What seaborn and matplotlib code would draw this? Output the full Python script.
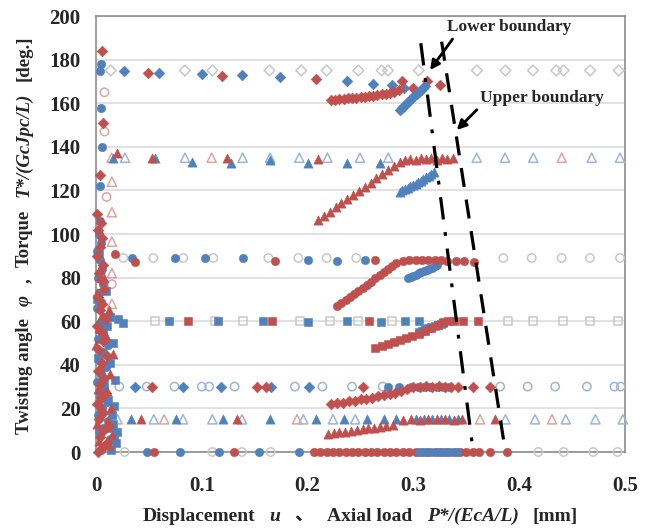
import numpy as np
import matplotlib
matplotlib.use("Agg")
import matplotlib.pyplot as plt
import seaborn as sns
from matplotlib.transforms import IdentityTransform

RED = "#C0504D"
BLUE = "#4F81BD"
OPEN_GRAY = "#C8C8C8"
OPEN_BLUE = "#9DB5DC"
OPEN_RED = "#DFA4A2"

# ---- rows of twisting angle (displacement on x) ----
# 175 deg (diamonds)
r175_red_x = [0.049, 0.119, 0.208, 0.289, 0.313, 0.325]
r175_red_y = [174, 172.5, 171, 170, 170, 168.3]
r175_blue_x = [0.026, 0.060, 0.100, 0.138, 0.174, 0.237, 0.262, 0.280, 0.291]
r175_blue_y = [175, 174, 173.5, 173, 172, 170, 169, 168.3, 166.8]
r175_open_x = [0.014, 0.084, 0.110, 0.164, 0.194, 0.218, 0.248, 0.270, 0.276, 0.305,
               0.360, 0.387, 0.413, 0.435, 0.442, 0.467, 0.494]

# 135 deg (triangles)
r135_red_x = [0.0195, 0.0526, 0.1235, 0.2101]
r135_red_y = [137, 135, 135, 134.5]
r135_blue_x = [0.0164, 0.0558, 0.0904, 0.1273, 0.1645, 0.2007, 0.237, 0.268]
r135_blue_y = [135, 135, 133, 132.5, 134, 132.5, 132.5, 132.4]
r135_open_x = [0.0274, 0.0841, 0.1386, 0.1645, 0.1922, 0.2187, 0.2495, 0.2763,
               0.3598, 0.3866, 0.4133, 0.4685, 0.4953]
r135_open_red_x = [0.0148, 0.1093, 0.4402]

# 90 deg (circles)
r90_red_x = [0.018, 0.0369, 0.1692, 0.2637]
r90_red_y = [91, 87.3, 87.8, 88]
r90_blue_x = [0.0337, 0.0747, 0.103, 0.1386, 0.2007, 0.2275, 0.2543]
r90_blue_y = [88.8, 89, 89, 89, 88, 87.8, 88]
r90_open_x = [0.0258, 0.0542, 0.0825, 0.1109, 0.1629, 0.1912, 0.218, 0.246,
              0.385, 0.4118, 0.4402, 0.4669, 0.4953]

# 60 deg (squares)
r60_red_x = [0.0866, 0.166, 0.2583, 0.3466, 0.3613]
r60_blue_x = [0.021, 0.0258, 0.0693, 0.1156, 0.1582, 0.2007, 0.237, 0.269, 0.292, 0.3056]
r60_blue_y = [61, 59, 60, 60, 60, 59.5, 60, 59.5, 60, 60]
r60_open_x = [0.0558, 0.1125, 0.1386, 0.1928, 0.2212, 0.2479, 0.2795,
              0.3897, 0.4133, 0.4417, 0.4669, 0.4937]

# 30 deg (diamonds / open circles)
r30_red_x = [0.053, 0.152, 0.161, 0.252, 0.356, 0.372]
r30_blue_x = [0.0367, 0.0823, 0.118, 0.165, 0.201]
r30_open_x = [0.022, 0.048, 0.0742, 0.100, 0.107, 0.131, 0.188, 0.214, 0.242, 0.271,
              0.382, 0.408, 0.434, 0.464, 0.490, 0.496]

# 15 deg (triangles)
r15_red_x = [0.043, 0.133, 0.377]
r15_blue_x = [0.0335, 0.0758, 0.120, 0.164, 0.208, 0.234]
r15_open_x = [0.0204, 0.0546, 0.0823, 0.110, 0.138, 0.196, 0.224, 0.245,
              0.387, 0.415, 0.444, 0.472, 0.498]
r15_open_red_x = [0.0644, 0.190, 0.363, 0.431]

# 0 deg (circles)
r0_red_x = [0.0546, 0.130, 0.388]
r0_blue_x = [0.048, 0.079, 0.1165, 0.154, 0.1915]
r0_open_x = [0.027, 0.110, 0.138, 0.165, 0.418, 0.442, 0.470, 0.493]

# ---- torque curves (axial load on x) ----
t175_red_x = [0.222, 0.226, 0.230, 0.234, 0.238, 0.242, 0.246, 0.250, 0.254, 0.258, 0.262,
              0.266, 0.270, 0.274, 0.278, 0.282, 0.286, 0.300]
t175_red_y = [161.5, 161.6, 161.8, 162.0, 162.2, 162.4, 162.6, 162.8, 163.0, 163.2, 163.4,
              163.7, 164.0, 164.3, 164.7, 165.2, 166.0, 167.0]
t175_blue_x = [0.287, 0.289, 0.291, 0.293, 0.295, 0.297, 0.299, 0.301, 0.303, 0.305, 0.307, 0.309, 0.311]
t175_blue_y = [157.0, 157.9, 158.8, 159.7, 160.6, 161.5, 162.4, 163.3, 164.2, 165.1, 166.0, 167.0, 168.0]

t135_red_x = [0.210, 0.2155, 0.221, 0.2265, 0.232, 0.2375, 0.243, 0.2485, 0.254, 0.2595, 0.265,
              0.2705, 0.276, 0.2815, 0.287, 0.292, 0.297, 0.302, 0.307, 0.312, 0.317, 0.322,
              0.327, 0.332, 0.337]
t135_red_y = [106.5, 108.4, 110.3, 112.2, 114.1, 116.0, 117.9, 119.8, 121.7, 123.6, 125.5,
              127.4, 129.3, 131.2, 133.0, 134.0, 134.5, 134.0, 135.0, 134.5, 135.0, 134.0,
              135.0, 134.5, 135.0]
t135_blue_x = [0.287, 0.2895, 0.292, 0.2945, 0.297, 0.2995, 0.302, 0.3045, 0.307, 0.3095,
               0.312, 0.3145, 0.317, 0.319]
t135_blue_y = [119.4, 120.0, 120.6, 121.2, 121.9, 122.5, 123.1, 123.8, 124.5, 125.2,
               126.0, 126.8, 127.6, 128.5]

t90_red_x = [0.228, 0.232, 0.236, 0.240, 0.244, 0.248, 0.252, 0.256, 0.260, 0.264, 0.268,
             0.272, 0.276, 0.280, 0.284, 0.290, 0.296, 0.302, 0.308, 0.314, 0.320, 0.326,
             0.332, 0.340, 0.348, 0.357]
t90_red_y = [67.0, 68.4, 69.8, 71.2, 72.6, 74.0, 75.4, 76.8, 78.2, 79.6, 81.0,
             82.4, 83.8, 85.2, 86.5, 87.5, 88.0, 88.2, 88.3, 88.3, 88.2, 88.0,
             87.8, 87.6, 87.5, 87.3]
t90_blue_x = [0.295, 0.2975, 0.300, 0.3025, 0.305, 0.3075, 0.310, 0.3125, 0.315, 0.3175, 0.320, 0.322]
t90_blue_y = [79.7, 80.3, 80.9, 81.4, 81.9, 82.4, 82.9, 83.4, 83.9, 84.5, 85.1, 85.8]

t60_red_x = [0.264, 0.270, 0.276, 0.2815, 0.287, 0.293, 0.299, 0.305, 0.311, 0.317, 0.323, 0.328, 0.333, 0.338]
t60_red_y = [47.6, 48.6, 49.6, 50.6, 51.4, 52.3, 53.2, 54.2, 55.5, 57.0, 58.4, 59.8, 60.2, 60.0]
t60_blue_x = [0.305, 0.308, 0.311, 0.314, 0.317, 0.320, 0.323, 0.326, 0.328]
t60_blue_y = [55.0, 55.6, 56.2, 56.8, 57.3, 57.8, 58.3, 58.8, 59.2]

t30_red_x = [0.2225, 0.228, 0.2335, 0.239, 0.2445, 0.250, 0.2555, 0.261, 0.2665, 0.272, 0.2775,
             0.283, 0.288, 0.294, 0.300, 0.306, 0.312, 0.318, 0.324, 0.330, 0.336, 0.342]
t30_red_y = [21.8, 22.3, 22.7, 23.2, 23.6, 24.1, 24.5, 25.0, 25.5, 26.0, 26.6,
             27.2, 28.0, 29.0, 29.6, 30.0, 30.2, 30.0, 30.2, 30.0, 30.0, 30.0]
t30_blue_x = [0.276, 0.286, 0.298, 0.304, 0.310, 0.316, 0.322, 0.328, 0.334]

t15_red_x = [0.219, 0.2245, 0.230, 0.2355, 0.241, 0.2465, 0.252, 0.2575, 0.263, 0.2685, 0.274,
             0.281, 0.290, 0.298, 0.306, 0.314, 0.322, 0.330, 0.338, 0.346]
t15_red_y = [8.3, 8.7, 9.0, 9.4, 9.8, 10.1, 10.5, 10.9, 11.2, 11.6, 12.0,
             12.3, 14.5, 15.0, 14.8, 15.0, 15.0, 15.0, 14.8, 15.0]
t15_blue_x = [0.256, 0.272, 0.284, 0.302, 0.310, 0.318, 0.326, 0.334, 0.342]

t0_red_x = [0.206, 0.212, 0.218, 0.224, 0.230, 0.236, 0.242, 0.248, 0.254, 0.260, 0.266, 0.272,
            0.278, 0.284, 0.290, 0.296, 0.302, 0.308, 0.314, 0.320, 0.326, 0.332, 0.338, 0.344,
            0.350, 0.356, 0.362, 0.372]
t0_blue_x = [0.305, 0.311, 0.317, 0.323, 0.329, 0.335, 0.341]

# ---- points at the start (u ~ 0) ----
z_red_x = [0.002, 0.006, 0.010, 0.004, 0.008, 0.012, 0.003, 0.007, 0.001, 0.005, 0.009, 0.004,
           0.008, 0.002, 0.006, 0.010, 0.003, 0.007, 0.005, 0.001, 0.009, 0.004, 0.006, 0.002,
           0.008, 0.005, 0.003, 0.007, 0.001, 0.004, 0.006, 0.002, 0.005, 0.001, 0.004, 0.007, 0.006]
z_red_y = [0, 2, 4, 7, 10, 12, 15, 18, 22, 25, 27, 31, 34, 37, 41, 44, 47, 51, 55, 58, 61, 65,
           68, 71, 75, 79, 82, 86, 90, 94, 98, 102, 105, 109, 127, 151, 184]
z_red2_x = [0.012, 0.015, 0.011, 0.014, 0.010, 0.013, 0.016, 0.009, 0.012, 0.008, 0.003, 0.001,
            0.005, 0.002, 0.004, 0.000, 0.003, 0.006, 0.001, 0.004]
z_red2_y = [3, 8, 14, 20, 28, 36, 45, 53, 65, 80, 5, 13, 21, 29, 39, 49, 57, 63, 73, 84]
z_blue_x = [0.005, 0.009, 0.013, 0.003, 0.007, 0.011, 0.002, 0.006, 0.010, 0.004, 0.008, 0.001,
            0.005, 0.009, 0.003, 0.007, 0.011, 0.002, 0.006, 0.004, 0.008, 0.001, 0.005, 0.003,
            0.007, 0.002, 0.006, 0.004, 0.001, 0.005, 0.003, 0.004, 0.006, 0.005, 0.004, 0.005, 0.004]
z_blue_y = [1, 3, 6, 9, 11, 14, 17, 20, 23, 26, 29, 32, 36, 39, 42, 46, 49, 52, 56, 59, 62, 66,
            69, 73, 77, 80, 84, 88, 92, 96, 100, 122, 140, 158, 175, 178, 106]
z_blue2_x = [0.014, 0.017, 0.012, 0.015, 0.011, 0.018, 0.013, 0.016, 0.010, 0.013, 0.019, 0.016,
             0.020, 0.017, 0.008, 0.002, 0.007, 0.001, 0.009, 0.003]
z_blue2_y = [1, 6, 11, 17, 24, 33, 41, 50, 58, 62, 4, 13, 9, 21, 31, 43, 54, 70, 74, 91]
z_open_circ_x = [0.008, 0.008, 0.010, 0.015]
z_open_circ_y = [165, 147, 117, 77]
z_open_tri_x = [0.015, 0.015, 0.015, 0.015, 0.015]
z_open_tri_y = [124, 110, 96.5, 82, 68]

# boundary lines
lower_x = [0.307, 0.3566]
lower_y = [187.5, 0]
upper_x = [0.3267, 0.387]
upper_y = [188.2, 0]

sns.set_style("white")
plt.rcParams["font.family"] = ["Liberation Serif", "Noto Sans CJK JP"]

fig = plt.figure(figsize=(6.52, 5.28), dpi=100)
ax = fig.add_axes([96 / 652, 1 - 452 / 528, 529 / 652, 436 / 528])

SIZES = {"D": 30, "^": 44, "o": 36, "s": 32}


def dots(x, y, marker, color, hollow=False):
    x = np.asarray(x, float)
    y = np.broadcast_to(np.asarray(y, float), x.shape)
    if hollow:
        sns.scatterplot(x=x, y=y, marker=marker, s=SIZES[marker], facecolor="none",
                        edgecolor=color, linewidth=1.1, ax=ax, clip_on=False, zorder=3)
    else:
        sns.scatterplot(x=x, y=y, marker=marker, s=SIZES[marker], color=color,
                        edgecolor=color, linewidth=0.4, ax=ax, clip_on=False, zorder=4)


# open (reference) markers first
dots(r175_open_x, 175, "D", OPEN_GRAY, True)
dots(r135_open_x, 135, "^", OPEN_BLUE, True)
dots(r135_open_red_x, 135, "^", OPEN_RED, True)
dots(r90_open_x, 89, "o", OPEN_GRAY, True)
dots(r60_open_x, 60, "s", OPEN_GRAY, True)
dots(r30_open_x, 30, "o", OPEN_BLUE, True)
dots(r15_open_x, 15, "^", OPEN_BLUE, True)
dots(r15_open_red_x, 15, "^", OPEN_RED, True)
dots(r0_open_x, 0, "o", OPEN_GRAY, True)
dots(z_open_circ_x, z_open_circ_y, "o", OPEN_RED, True)
dots(z_open_tri_x, z_open_tri_y, "^", OPEN_RED, True)

# filled rows
dots(r175_blue_x, r175_blue_y, "D", BLUE)
dots(r175_red_x, r175_red_y, "D", RED)
dots(r135_blue_x, r135_blue_y, "^", BLUE)
dots(r135_red_x, r135_red_y, "^", RED)
dots(r90_blue_x, r90_blue_y, "o", BLUE)
dots(r90_red_x, r90_red_y, "o", RED)
dots(r60_blue_x, r60_blue_y, "s", BLUE)
dots(r60_red_x, 60, "s", RED)
dots(r30_blue_x, 30, "D", BLUE)
dots(r30_red_x, 30, "D", RED)
dots(r15_blue_x, 15, "^", BLUE)
dots(r15_red_x, 15, "^", RED)
dots(r0_blue_x, 0, "o", BLUE)
dots(r0_red_x, 0, "o", RED)

# torque curves
dots(t175_red_x, t175_red_y, "D", RED)
dots(t175_blue_x, t175_blue_y, "D", BLUE)
dots(t135_blue_x, t135_blue_y, "^", BLUE)
dots(t135_red_x, t135_red_y, "^", RED)
dots(t90_blue_x, t90_blue_y, "o", BLUE)
dots(t90_red_x, t90_red_y, "o", RED)
dots(t60_blue_x, t60_blue_y, "s", BLUE)
dots(t60_red_x, t60_red_y, "s", RED)
dots(t30_blue_x, 30, "o", BLUE)
dots(t30_red_x, t30_red_y, "D", RED)
dots(t15_blue_x, 15, "^", BLUE)
dots(t15_red_x, t15_red_y, "^", RED)
dots(t0_red_x, 0, "o", RED)
dots(t0_blue_x, 0, "o", BLUE)

# start cluster
dots(z_blue2_x, z_blue2_y, "s", BLUE)
dots(z_blue_x, z_blue_y, "o", BLUE)
dots(z_red_x, z_red_y, "D", RED)
dots(z_red2_x, z_red2_y, "^", RED)

# boundaries
ax.plot(lower_x, lower_y, color="black", lw=2.3, linestyle=(0, (7, 4, 1.2, 4)), zorder=5)
ax.plot(upper_x, upper_y, color="black", lw=2.3, linestyle=(0, (6, 4)), zorder=5)
arrow = dict(arrowstyle="-|>", color="black", lw=2, mutation_scale=14, shrinkA=0, shrinkB=0)
ax.annotate("", xy=(0.3157, 175.2), xytext=(0.337, 189.4), arrowprops=arrow, zorder=6)
ax.annotate("", xy=(0.341, 147.7), xytext=(0.360, 157.0), arrowprops=arrow, zorder=6)
ax.text(0.391, 195, "Lower boundary", ha="center", va="center", fontsize=12.5,
        fontweight="bold", zorder=6)
ax.text(0.4216, 162.4, "Upper boundary", ha="center", va="center", fontsize=12.5,
        fontweight="bold", zorder=6)

ax.set_xlim(0, 0.5)
ax.set_ylim(0, 200)
ax.set_xticks([0, 0.1, 0.2, 0.3, 0.4, 0.5])
ax.set_xticklabels(["0", "0.1", "0.2", "0.3", "0.4", "0.5"])
ax.set_yticks(range(0, 201, 20))
ax.yaxis.grid(True, color="#D9D9D9", lw=1.1)
ax.set_axisbelow(True)
ax.tick_params(axis="both", length=0, labelsize=15)
ax.tick_params(axis="x", pad=17)
ax.tick_params(axis="y", pad=11)
for lab in ax.get_xticklabels() + ax.get_yticklabels():
    lab.set_fontweight("bold")
for sp in ax.spines.values():
    sp.set_color("#8C8C8C")
    sp.set_linewidth(1.2)
ax.set_xlabel("")
ax.set_ylabel("")


def label_run(pieces, cx, cy, vertical, size, gap):
    fig.canvas.draw()
    r = fig.canvas.get_renderer()
    made = []
    for s, it in pieces:
        t = fig.text(0, 0, s, transform=IdentityTransform(), fontsize=size, fontweight="bold",
                     fontstyle="italic" if it else "normal", rotation=90 if vertical else 0,
                     rotation_mode="anchor", ha="left", va="baseline")
        bb = t.get_window_extent(r)
        made.append((t, bb.height if vertical else bb.width))
    total = sum(w for _, w in made) + gap * (len(made) - 1)
    pos = -total / 2
    for t, w in made:
        t.set_position((cx, cy + pos) if vertical else (cx + pos, cy))
        pos += w + gap


x_pieces = [("Displacement", False), ("u", True), ("、", False), ("Axial load", False),
            ("P*/(EcA/L)", True), ("[mm]", False)]
y_pieces = [("Twisting angle", False), ("φ", True), (",", False), ("Torque", False),
            ("T*/(GcJpc/L)", True), ("[deg.]", False)]
label_run(x_pieces, 360, 528 - 521, False, 14, 14)
label_run(y_pieces, 29, 528 - 235, True, 13.5, 12)

fig.savefig("out.png", dpi=100)
